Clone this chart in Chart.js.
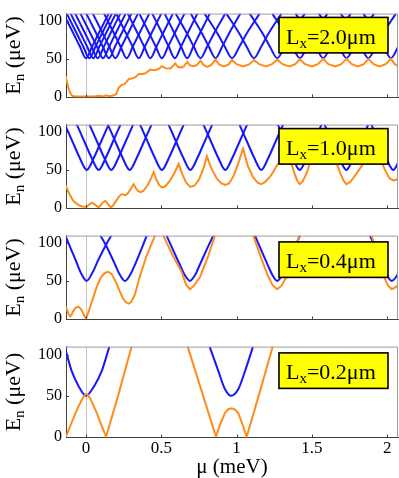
<!DOCTYPE html>
<html><head><meta charset="utf-8">
<script src="https://cdn.jsdelivr.net/npm/chart.js@4.4.1/dist/chart.umd.min.js"></script>
<style>
html,body{margin:0;padding:0;background:#fff;}
#wrap{position:relative;width:399px;height:478px;overflow:hidden;background:#fff;}
#wrap canvas{position:absolute;left:0;}
</style></head><body>
<div id="wrap">
<canvas id="c1" width="399" height="111" style="top:0px"></canvas>
<canvas id="c2" width="399" height="111" style="top:111px"></canvas>
<canvas id="c3" width="399" height="111" style="top:222px"></canvas>
<canvas id="c4" width="399" height="145" style="top:333px"></canvas>
</div>
<script>
// ---------- data ----------
const xTicks = [0, 0.5, 1, 1.5, 2];
const xTickLabels = ['0', '0.5', '1', '1.5', '2'];
const yTicks = [0, 50, 100];
const lxLabels = ['2.0', '1.0', '0.4', '0.2'];

// Panel 1 (Lx = 2.0 um): blue branches, x positions at the energy levels below
const p1BlueLevels = [110, 83, 66, 51, 66, 83, 110];
const p1BlueX = [
 [-0.15,-0.082,-0.04,0,0.04,0.082,0.15],
 [-0.128,-0.06,-0.018,0.022,0.062,0.104,0.172],
 [-0.102,-0.034,0.008,0.048,0.088,0.13,0.198],
 [-0.072,-0.004,0.038,0.078,0.118,0.16,0.228],
 [-0.037,0.031,0.073,0.113,0.153,0.195,0.263],
 [0.002,0.07,0.112,0.152,0.192,0.234,0.302],
 [0.045,0.113,0.155,0.195,0.235,0.277,0.345],
 [0.12,0.188,0.23,0.27,0.31,0.352,0.42],
 [0.2,0.268,0.31,0.35,0.39,0.432,0.5],
 [0.277,0.345,0.387,0.427,0.467,0.509,0.577],
 [0.354,0.422,0.464,0.504,0.544,0.586,0.654],
 [0.44,0.508,0.55,0.59,0.63,0.672,0.74],
 [0.522,0.59,0.632,0.672,0.712,0.754,0.822],
 [0.595,0.672,0.716,0.76,0.804,0.848,0.925],
 [0.695,0.772,0.816,0.86,0.904,0.948,1.025],
 [0.787,0.875,0.922,0.97,1.018,1.065,1.153],
 [0.932,1.02,1.067,1.115,1.163,1.21,1.298],
 [1.087,1.175,1.222,1.27,1.318,1.365,1.453],
 [1.237,1.325,1.372,1.42,1.468,1.515,1.603],
 [1.392,1.48,1.527,1.575,1.623,1.67,1.758],
 [1.547,1.635,1.682,1.73,1.778,1.825,1.913],
 [1.692,1.78,1.827,1.875,1.923,1.97,2.058],
 [1.842,1.93,1.977,2.025,2.073,2.12,2.208]
];
const p1Orange = [[-0.135,27],[-0.125,18],[-0.113,9],[-0.1,3],[-0.088,0.8],[-0.07,0.3],[0.0,0.3],[0.06,0.4],[0.085,1.2],[0.1,0.5],[0.12,0.6],[0.135,1.8],[0.15,0.6],[0.175,1.2],[0.19,2.5],[0.2,3],[0.215,11],[0.235,15.5],[0.255,16.5],[0.27,20],[0.285,23.5],[0.305,24],[0.325,25.5],[0.35,30],[0.375,30],[0.395,31],[0.427,36],[0.455,35],[0.482,36.6],[0.504,40.4],[0.53,37.5],[0.56,37.4],[0.593,44],[0.61,39.5],[0.63,38.5],[0.65,40],[0.672,46],[0.69,41.5],[0.715,40.4],[0.737,42],[0.76,47.8],[0.78,42],[0.805,39.5],[0.832,42],[0.86,49],[0.885,42.5],[0.915,40],[0.945,42.5],[0.97,48.5],[1.0,43],[1.043,40],[1.085,43],[1.115,48.5],[1.15,43],[1.195,40],[1.235,43],[1.27,49],[1.305,43],[1.35,40],[1.39,43],[1.42,49.5],[1.455,43],[1.5,40],[1.54,43],[1.575,50],[1.61,43],[1.655,40],[1.695,43],[1.73,50],[1.765,43],[1.805,40],[1.845,43],[1.875,50],[1.91,43],[1.95,40],[1.99,43],[2.025,50],[2.05,43],[2.075,40.5]];

// Panel 2 (Lx = 1.0 um)
const p2BlueLevels = [110, 83, 66, 50, 66, 83, 110];
const p2BlueX = [
 [-0.14,-0.08,-0.042,0.005,0.052,0.09,0.15],
 [-0.061,-0.001,0.037,0.084,0.131,0.169,0.229],
 [0.023,0.083,0.121,0.168,0.215,0.253,0.313],
 [0.145,0.205,0.243,0.29,0.337,0.375,0.435],
 [0.359,0.419,0.457,0.504,0.551,0.589,0.649],
 [0.548,0.608,0.646,0.693,0.74,0.778,0.838],
 [0.78,0.84,0.878,0.925,0.972,1.01,1.07],
 [1.019,1.079,1.117,1.164,1.211,1.249,1.309],
 [1.274,1.334,1.372,1.419,1.466,1.504,1.564],
 [1.584,1.644,1.682,1.729,1.776,1.814,1.874],
 [1.895,1.955,1.993,2.04,2.087,2.125,2.185]
];
const p2Orange = [[-0.135,30],[-0.12,22],[-0.104,15.7],[-0.088,10],[-0.071,6.6],[-0.05,3.5],[-0.03,1.8],[-0.01,1.2],[0.005,1.5],[0.02,4],[0.04,6.6],[0.06,4],[0.075,1.5],[0.084,0.8],[0.095,2.5],[0.11,6.5],[0.128,9],[0.145,5],[0.16,1.2],[0.168,0.5],[0.18,3],[0.2,9],[0.22,15],[0.239,18],[0.25,17],[0.261,16.5],[0.275,18.5],[0.295,24],[0.316,31],[0.33,26],[0.345,22],[0.361,20.6],[0.38,22],[0.41,30],[0.43,38],[0.449,47],[0.465,38],[0.485,30],[0.504,26.7],[0.525,28],[0.555,35],[0.585,45],[0.615,58],[0.64,44],[0.665,33],[0.693,27.5],[0.72,29],[0.75,37],[0.78,52],[0.803,68],[0.83,53],[0.87,38],[0.9,32],[0.925,30],[0.95,32],[0.98,42],[1.01,58],[1.043,78],[1.075,55],[1.11,40],[1.14,33],[1.164,31],[1.19,34],[1.23,43],[1.275,58],[1.297,66],[1.325,82],[1.352,66],[1.38,48],[1.4,37],[1.419,31],[1.44,35],[1.47,48],[1.496,66],[1.53,82],[1.565,96],[1.6,80],[1.651,66],[1.69,45],[1.71,36],[1.729,31],[1.755,34],[1.8,46],[1.84,58],[1.872,66],[1.9,86],[1.925,74],[1.95,66],[1.99,48],[2.015,39],[2.04,36],[2.06,37],[2.075,39.5]];

// Panel 3 (Lx = 0.4 um)
const p3Blue = [
 [[-0.135,109],[-0.1,92],[-0.07,78],[-0.035,61],[0.004,50],[0.043,61],[0.082,78],[0.133,98],[0.168,110]],
 [[0.095,110],[0.133,97],[0.19,73],[0.225,58],[0.259,50],[0.293,58],[0.328,73],[0.368,92],[0.403,110]],
 [[0.535,110],[0.58,90],[0.622,72],[0.655,58],[0.69,50],[0.725,58],[0.757,72],[0.805,93],[0.845,110]],
 [[1.122,110],[1.165,90],[1.205,72],[1.237,58],[1.27,50],[1.303,58],[1.335,72],[1.38,92],[1.421,110]],
 [[1.886,110],[1.93,90],[1.967,72],[1.998,58],[2.03,50],[2.062,56],[2.09,66]]
];
const p3Orange = [[-0.135,16.5],[-0.125,11],[-0.115,5.5],[-0.106,3],[-0.097,4.5],[-0.085,10],[-0.07,14.5],[-0.051,16],[-0.035,13],[-0.02,7.5],[-0.008,2.5],[0.0,0.3],[0.015,8],[0.035,20],[0.071,42],[0.1,55],[0.125,60.5],[0.148,62],[0.17,59],[0.195,50],[0.22,38],[0.245,27],[0.263,22],[0.281,20],[0.3,22],[0.325,32],[0.359,57],[0.4,82],[0.458,110],[0.485,null],[0.513,110],[0.575,84],[0.635,62],[0.665,45],[0.69,39],[0.718,44],[0.757,55],[0.81,82],[0.856,110],[0.98,null],[1.111,110],[1.16,82],[1.205,58],[1.24,44],[1.27,39],[1.3,44],[1.338,58],[1.38,82],[1.416,110],[1.65,null],[1.897,110],[1.94,80],[1.98,55],[2.005,44],[2.03,39],[2.055,41.5],[2.078,46]];

// Panel 4 (Lx = 0.2 um)
const p4Blue = [
 [[-0.142,110],[-0.095,80],[-0.05,62],[0.0,50],[0.055,62],[0.104,80],[0.155,110]],
 [[0.821,110],[0.879,80],[0.923,58],[0.963,50],[1.011,58],[1.056,80],[1.109,110]]
];
const p4Orange = [[-0.133,0],[-0.09,20],[-0.05,37],[-0.025,46],[-0.01,50.5],[0.0,52],[0.012,51],[0.03,46],[0.071,29],[0.1,15],[0.133,0],[0.204,44],[0.303,110],[0.5,null],[0.675,110],[0.757,62],[0.863,0],[0.89,14.6],[0.923,29],[0.945,33.5],[0.967,34.6],[0.99,33],[1.011,29],[1.04,14.6],[1.067,0],[1.15,52],[1.24,110]];

// ---------- drawing ----------
const SERIF = '"Liberation Serif", "Times New Roman", "DejaVu Serif", serif';
const BLUE = '#1616ff';
const ORANGE = '#ff8c1a';
const XMIN = -0.133, XMAX = 2.072;

const toPts = arr => arr.map(p => ({x: p[0], y: p[1]}));
const zipV = (xs, levels) => xs.map((x, i) => ({x: x, y: levels[i]}));

const decoPlugin = {
  id: 'panelDeco',
  afterDatasetsDraw(chart, args, opts) {
    const {ctx, chartArea: a, scales} = chart;
    ctx.save();
    ctx.lineWidth = 1;
    ctx.strokeStyle = '#9c9c9c';
    ctx.beginPath();
    ctx.moveTo(a.left, a.top + 0.5);
    ctx.lineTo(a.right - 0.5, a.top + 0.5);
    ctx.lineTo(a.right - 0.5, a.bottom);
    ctx.stroke();
    ctx.strokeStyle = '#404040';
    ctx.beginPath();
    xTicks.forEach(v => {
      const px = Math.round(scales.x.getPixelForValue(v)) + 0.5;
      ctx.moveTo(px, a.bottom); ctx.lineTo(px, a.bottom - 3);
    });
    yTicks.forEach(v => {
      const py = Math.round(scales.y.getPixelForValue(v)) + 0.5;
      ctx.moveTo(a.left, py); ctx.lineTo(a.left + 3, py);
    });
    ctx.stroke();
    // label box
    const bw = 109, bh = 35.5;
    const bx = a.right - 119, by = a.top + opts.boxDy;
    ctx.fillStyle = '#ffff00';
    ctx.fillRect(bx, by, bw, bh);
    ctx.lineWidth = 1.6;
    ctx.strokeStyle = '#000';
    ctx.strokeRect(bx, by, bw, bh);
    ctx.fillStyle = '#000';
    ctx.textAlign = 'left';
    ctx.textBaseline = 'alphabetic';
    let tx = bx + 7;
    const ty = by + 26.5;
    ctx.font = '22px ' + SERIF;
    ctx.fillText('L', tx, ty); tx += ctx.measureText('L').width;
    ctx.font = '15px ' + SERIF;
    ctx.fillText('x', tx, ty + 4); tx += ctx.measureText('x').width;
    ctx.font = '22px ' + SERIF;
    ctx.fillText('=' + opts.lx + 'μm', tx, ty);
    // y-axis title with subscript
    const cy = (a.top + a.bottom) / 2;
    ctx.save();
    ctx.translate(opts.titleX, cy);
    ctx.rotate(-Math.PI / 2);
    const big = '22px ' + SERIF, small = '15px ' + SERIF;
    ctx.font = big; const wE = ctx.measureText('E').width; const wR = ctx.measureText(' (μeV)').width;
    ctx.font = small; const wN = ctx.measureText('n').width;
    let sx = -(wE + wN + wR) / 2;
    const base = 7.5;
    ctx.font = big; ctx.fillText('E', sx, base); sx += wE;
    ctx.font = small; ctx.fillText('n', sx, base + 4); sx += wN;
    ctx.font = big; ctx.fillText(' (μeV)', sx, base);
    ctx.restore();
    ctx.restore();
  }
};

function makePanel(id, cfg) {
  const datasets = [];
  datasets.push({
    data: toPts(cfg.orange), borderColor: ORANGE, borderWidth: 2,
    pointRadius: 0, fill: false, tension: 0, spanGaps: false
  });
  cfg.blue.forEach(b => datasets.push({
    data: b, borderColor: BLUE, borderWidth: 2, pointRadius: 0, fill: false,
    cubicInterpolationMode: 'monotone'
  }));
  new Chart(document.getElementById(id), {
    type: 'line',
    data: {datasets},
    options: {
      responsive: false, animation: false, events: [],
      layout: {padding: {top: cfg.padTop, right: 1, left: 0, bottom: 0}},
      plugins: {legend: {display: false}, tooltip: {enabled: false},
        panelDeco: {lx: cfg.lx, boxDy: cfg.boxDy, titleX: 12.5}},
      scales: {
        x: {
          type: 'linear', min: XMIN, max: XMAX,
          afterBuildTicks: s => { s.ticks = xTicks.map(v => ({value: v})); },
          afterFit: s => { s.height = cfg.xAxisH; },
          grid: {drawTicks: false, lineWidth: 1,
            color: c => (c.tick && c.tick.value === 0) ? '#c4c4c4' : 'rgba(0,0,0,0)'},
          border: {display: true, color: '#404040', width: 1},
          ticks: {display: cfg.showX, autoSkip: false, maxRotation: 0, minRotation: 0, padding: 1,
            color: '#000', font: {family: SERIF, size: 17},
            callback: (v, i) => xTickLabels[i]},
          title: {display: cfg.showX, text: 'μ (meV)', color: '#000',
            font: {family: SERIF, size: 21, lineHeight: 1}, padding: 0}
        },
        y: {
          type: 'linear', min: -1, max: 110,
          afterBuildTicks: s => { s.ticks = yTicks.map(v => ({value: v})); },
          afterFit: s => { s.width = 66; },
          grid: {display: false, drawTicks: false},
          border: {display: true, color: '#404040', width: 1},
          ticks: {padding: 4, color: '#000', font: {family: SERIF, size: 16},
            callback: v => String(v)},
          title: {display: false, text: 'En (μeV)'}
        }
      }
    },
    plugins: [decoPlugin]
  });
}

makePanel('c1', {orange: p1Orange, blue: p1BlueX.map(xs => zipV(xs, p1BlueLevels)),
  lx: lxLabels[0], padTop: 3.5, xAxisH: 7.7, boxDy: 3.8, showX: false});
makePanel('c2', {orange: p2Orange, blue: p2BlueX.map(xs => zipV(xs, p2BlueLevels)),
  lx: lxLabels[1], padTop: 4, xAxisH: 7, boxDy: 4, showX: false});
makePanel('c3', {orange: p3Orange, blue: p3Blue.map(toPts),
  lx: lxLabels[2], padTop: 4, xAxisH: 7, boxDy: 6.3, showX: false});
makePanel('c4', {orange: p4Orange, blue: p4Blue.map(toPts),
  lx: lxLabels[3], padTop: 4.7, xAxisH: 40.5, boxDy: 6.3, showX: true});
</script>
</body></html>
